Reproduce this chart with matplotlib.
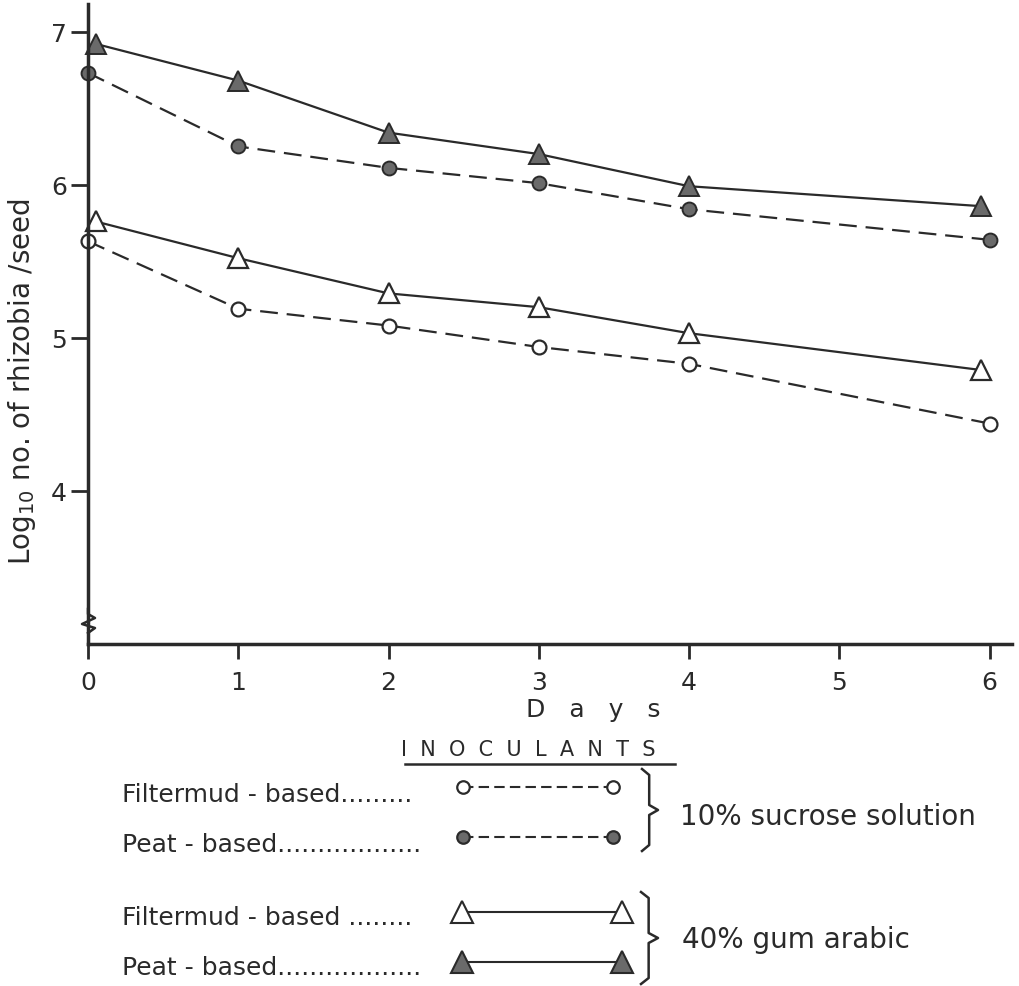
import matplotlib.pyplot as plt

plt.rcParams['font.family'] = ['DejaVu Sans']

# days after inoculation
days = [0, 1, 2, 3, 4, 6]
tri_days = [0.05, 1, 2, 3, 4, 5.94]

# log10 rhizobia per seed
filtermud_sucrose = [5.63, 5.19, 5.08, 4.94, 4.83, 4.44]
peat_sucrose = [6.73, 6.25, 6.11, 6.01, 5.84, 5.64]
filtermud_gum = [5.76, 5.52, 5.29, 5.20, 5.03, 4.79]
peat_gum = [6.92, 6.68, 6.34, 6.20, 5.99, 5.86]

x_ticks = [0, 1, 2, 3, 4, 5, 6]
y_ticks = [4, 5, 6, 7]

ink = '#2a2a2a'
fill = '#6a6a6a'

fig = plt.figure(figsize=(10.19, 9.87), dpi=100)
ax = fig.add_axes([0.0864, 0.3465, 0.9068, 0.6484])

ax.plot(days, filtermud_sucrose, color=ink, lw=1.6, dashes=(8, 4),
        marker='o', ms=10, mfc='white', mec=ink, mew=1.6, clip_on=False)
ax.plot(days, peat_sucrose, color=ink, lw=1.6, dashes=(8, 4),
        marker='o', ms=10, mfc=fill, mec=ink, mew=1.4, clip_on=False)
ax.plot(tri_days, filtermud_gum, color=ink, lw=1.6,
        marker='^', ms=15, mfc='white', mec=ink, mew=1.6, clip_on=False)
ax.plot(tri_days, peat_gum, color=ink, lw=1.6,
        marker='^', ms=15, mfc=fill, mec=ink, mew=1.4, clip_on=False)

ax.set_xlim(0, 6.15)
ax.set_ylim(3.0, 7.18)
ax.set_xticks(x_ticks)
ax.set_yticks(y_ticks)
ax.set_xticklabels([str(v) for v in x_ticks], fontsize=18, color=ink)
ax.set_yticklabels([str(v) for v in y_ticks], fontsize=18, color=ink)
ax.tick_params(axis='x', direction='out', length=11, width=2, pad=8, color=ink)
ax.tick_params(axis='y', direction='out', length=12, width=2, pad=3, color=ink)
for s in ['top', 'right']:
    ax.spines[s].set_visible(False)
for s in ['left', 'bottom']:
    ax.spines[s].set_linewidth(2.5)
    ax.spines[s].set_color(ink)

fig.text(0.022, 1 - 382 / 987, 'Log$_{10}$ no. of rhizobia /seed', rotation=90,
         ha='center', va='center', fontsize=20, color=ink)
fig.text(593 / 1019, 1 - 710 / 987, 'D   a   y   s', ha='center', va='center',
         fontsize=18, color=ink)

# overlay in pixel coordinates for the legend block and axis break
ov = fig.add_axes([0, 0, 1, 1])
ov.set_xlim(0, 1019)
ov.set_ylim(987, 0)
ov.axis('off')

ov.plot([88, 88, 95, 82, 95, 88], [610, 615, 619, 625, 629, 634], color=ink, lw=1.8)

ov.text(528, 750, 'I  N  O  C  U  L  A  N  T  S', ha='center', va='center',
        fontsize=15, color=ink)
ov.plot([405, 675], [765, 765], color=ink, lw=1.8)

rows = [
    ('Filtermud - based.........', 795, 'o', 'white', (5, 2.5), 613),
    ('Peat - based..................', 845, 'o', fill, (5, 2.5), 613),
    ('Filtermud - based ........', 918, '^', 'white', None, 622),
    ('Peat - based..................', 968, '^', fill, None, 622),
]
for label, y, mk, mf, ds, x1 in rows:
    ov.text(122, y, label, ha='left', va='center', fontsize=18, color=ink)
    if ds:
        ov.plot([463, x1], [y - 7, y - 7], color=ink, lw=1.5, dashes=ds,
                marker=mk, ms=9, mfc=mf, mec=ink, mew=1.6)
    else:
        ov.plot([462, x1], [y - 5, y - 5], color=ink, lw=1.5,
                marker=mk, ms=16, mfc=mf, mec=ink, mew=1.5)


def brace(x, y0, y1, w):
    ym = (y0 + y1) / 2
    xs = [x, x + w * 0.45, x + w * 0.45, x + w, x + w * 0.45, x + w * 0.45, x]
    ys = [y0, y0 + 6, ym - 5, ym, ym + 5, y1 - 6, y1]
    ov.plot(xs, ys, color=ink, lw=1.8)


brace(642, 770, 852, 16)
brace(641, 893, 985, 17)
ov.text(680, 817, '10% sucrose solution', ha='left', va='center', fontsize=20, color=ink)
ov.text(682, 940, '40% gum arabic', ha='left', va='center', fontsize=20, color=ink)

fig.savefig('out.png', dpi=100)
